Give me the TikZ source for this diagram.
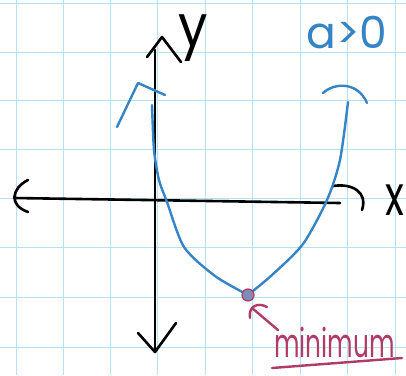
\documentclass[tikz,border=0pt]{standalone}
\usepackage{fontspec}
\usepackage{graphicx}
\setmainfont{Poppins}
\usetikzlibrary{calc}
\definecolor{cGrid}{HTML}{B5E1F2}
\definecolor{cCurve}{HTML}{3585C6}
\definecolor{cMin}{HTML}{B03A68}
\definecolor{cDot}{HTML}{7F8CB8}

\begin{document}
\begin{tikzpicture}[
    x=1pt, y=-1pt,
    gridline/.style={draw=cGrid, line width=1pt},
    axis/.style={draw=black, line width=2.6pt, line cap=round, line join=round},
    curve/.style={draw=cCurve, line width=2.4pt, line cap=round, line join=round},
    minmark/.style={draw=cMin, line width=2.4pt, line cap=round, line join=round}
]
\useasboundingbox (0,0) rectangle (406,375);
\fill[white] (0,0) rectangle (406,375);

% graph paper
\foreach \gx in {16,63,110,157,205,252,300,347,395}
    \draw[gridline] (\gx,0) -- (\gx,375);
\foreach \gy in {3,52,100,149,198,247,297,347}
    \draw[gridline] (0,\gy) -- (406,\gy);

% axes
\coordinate (xleft) at (14,198);
\coordinate (xright) at (340,203);
\coordinate (ytop) at (155,50);
\coordinate (ybottom) at (155,352);
\draw[axis] (xleft) -- (xright);
\draw[axis] (ytop) -- (ybottom);
\draw[axis] (28,180) .. controls (12,188) and (8,205) .. (28,212);
\draw[axis] (333,186) .. controls (352,183) and (368,192) .. (362,210);
\draw[axis] (147,57) -- (162,37) -- (181,62);
\draw[axis] (138,333) -- (ybottom) -- (176,323);

\node[font=\fontsize{56}{56}\selectfont] (xlabel) at (395,200) {\scalebox{0.7}[1]{x}};
\node[font=\fontsize{58}{58}\selectfont] (ylabel) at (193,38) {\scalebox{0.9}[1]{y}};

% parabola
\coordinate (vertex) at (248,295);
\draw[curve] plot[smooth, tension=0.45] coordinates {
    (152,105) (154,150) (159,180) (167,202) (184,247) (215,276) (vertex)};
\draw[curve] plot[smooth, tension=0.45] coordinates {
    (vertex) (272,275) (303,244) (327,200) (340,160) (348,102)};
\draw[curve] (117,127) -- (138,83) -- (165,95);
\draw[curve] (323,93) .. controls (335,82) and (358,82) .. (367,103);

\node[text=cCurve, font=\fontsize{44}{44}\selectfont] (sign) at (347,33) {a>0};

% minimum
\node[circle, fill=cDot, draw=cMin, line width=1.2pt, minimum size=12pt, inner sep=0pt] (min) at (vertex) {};
\draw[minmark] (278,330) -- (252,308);
\draw[minmark] (250,318) .. controls (248,306) and (258,302) .. (267,307);
\node[text=cMin, font=\fontsize{40}{40}\selectfont, anchor=west, inner sep=0pt] (minlabel) at (274,342) {\scalebox{0.62}[1]{minimum}};
\draw[minmark] (272,368) -- (402,358);

\end{tikzpicture}
\end{document}
